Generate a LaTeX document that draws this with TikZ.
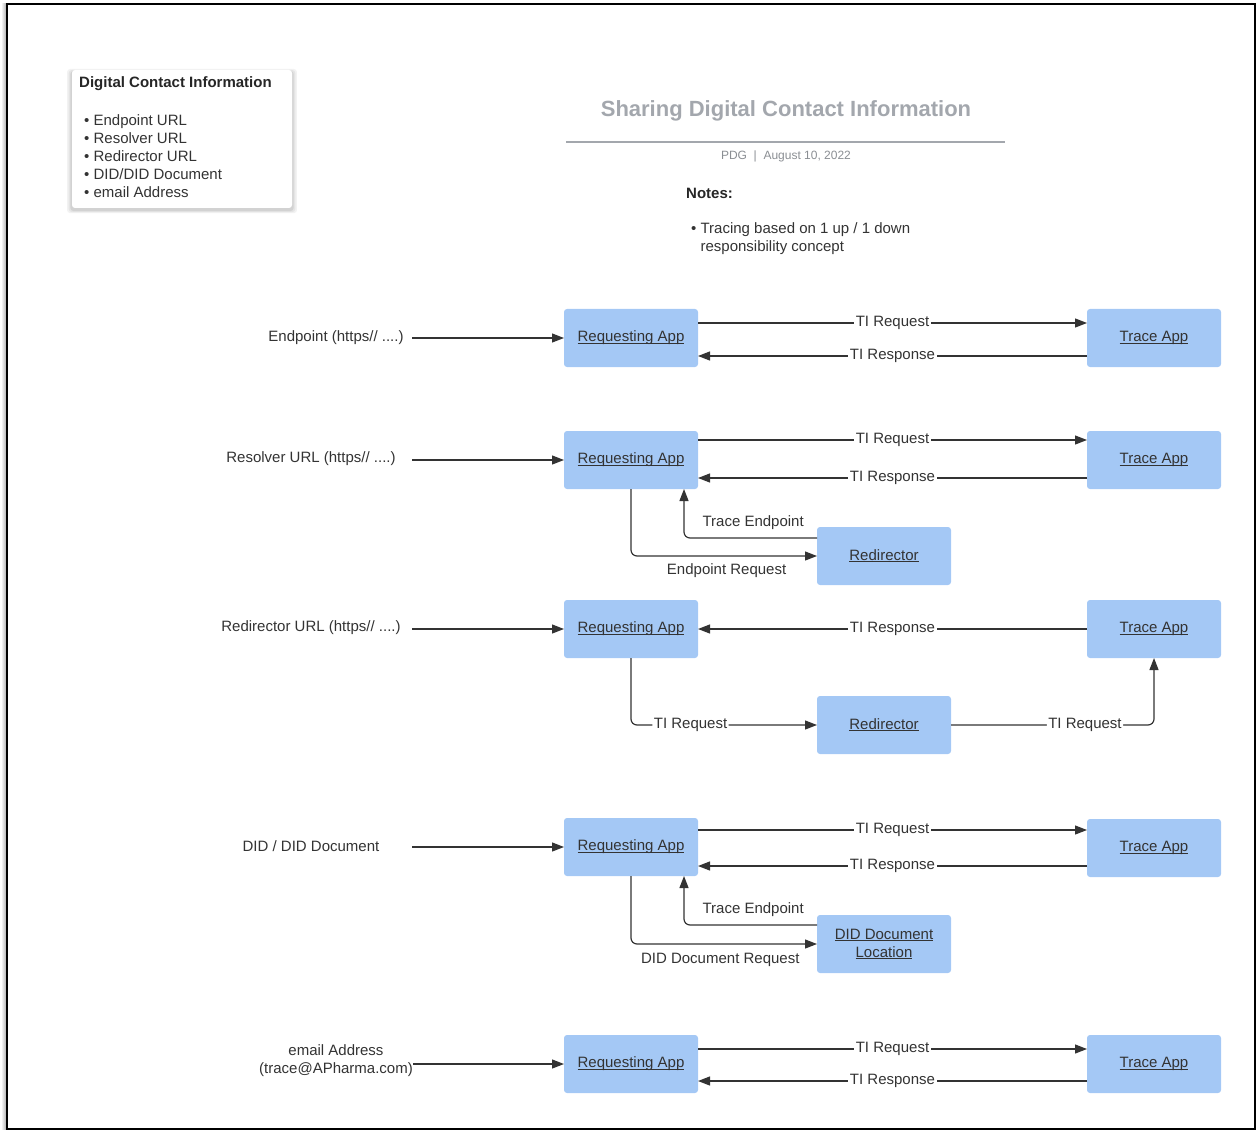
\documentclass[tikz,border=0pt]{standalone}
\usepackage{fontspec}
\setmainfont{Liberation Sans}
\usetikzlibrary{arrows.meta,shadows}
\definecolor{appblue}{HTML}{A4C8F5}
\definecolor{linegray}{HTML}{333333}
\definecolor{titlegray}{HTML}{A3A7AD}
\newcommand{\lnk}[1]{\setbox0\hbox{#1}\rlap{\rule[-1.8pt]{\wd0}{0.9pt}}\box0}

\begin{document}
\begin{tikzpicture}[x=1pt, y=-1pt,
	app/.style={fill=appblue, rounded corners=3pt, minimum width=134pt, minimum height=58pt, align=center, text=linegray, font=\fontsize{15}{18}\selectfont, outer sep=0pt},
	flow/.style={draw=linegray, line width=1.2pt, -{Triangle[length=12pt,width=9pt]}},
	elbow/.style={flow, rounded corners=6pt},
	lbl/.style={fill=white, inner sep=1.5pt, text=linegray, font=\fontsize{15}{18}\selectfont},
	txt/.style={text=linegray, font=\fontsize{15}{18}\selectfont, align=center},
	card/.style={fill=white, rounded corners=3pt, minimum width=220pt, minimum height=138pt,
		general shadow={fill=black, opacity=0.05, rounded corners=6pt, shadow scale=1.045, shadow yshift=-2pt},
		general shadow={fill=black, opacity=0.06, rounded corners=5pt, shadow scale=1.03, shadow yshift=-2pt},
		general shadow={fill=black, opacity=0.08, rounded corners=4pt, shadow scale=1.015, shadow yshift=-2pt}}]

	\useasboundingbox (0,0) rectangle (1257,1131);
	\shade [left color=white, right color=black!35] (1,4) rectangle (7,1129);
	\draw [line width=2.5pt] (7,4) rectangle (1255,1129);

	% contact information card
	\node [card] (card) at (182,139) {};
	\node [anchor=west, inner sep=0pt, text=black!85, font=\bfseries\fontsize{15}{18}\selectfont] (cardtitle) at (79,84) {Digital Contact Information};
	\node [anchor=west, inner sep=0pt, align=left, text=linegray, font=\fontsize{15}{18}\selectfont] (cardlist) at (84,156) {• Endpoint URL\\• Resolver URL\\• Redirector URL\\• DID/DID Document\\• email Address};

	% heading and notes
	\node [text=titlegray, font=\bfseries\fontsize{22}{26}\selectfont] (heading) at (786,111) {Sharing Digital Contact Information};
	\draw [titlegray, line width=1.2pt] (566,142) -- (1005,142);
	\node [text=titlegray!85!black, font=\fontsize{12}{14}\selectfont] (byline) at (786,156) {PDG \ | \ August 10, 2022};
	\node [anchor=west, inner sep=0pt, text=black!85, font=\bfseries\fontsize{15}{18}\selectfont] (notes) at (686,193) {Notes:};
	\node [anchor=west, inner sep=0pt, align=left, text=linegray, font=\fontsize{15}{18}\selectfont] (notelist) at (691,239) {• Tracing based on 1 up / 1 down\\\phantom{• }responsibility concept};

	% endpoint
	\node [txt] (src1) at (336,338) {Endpoint (https// ....)};
	\coordinate (in1) at (412,338);
	\node [app] (req1) at (631,338) {\lnk{Requesting App}};
	\node [app] (trc1) at (1154,338) {\lnk{Trace App}};
	\draw [flow] (in1) -- (req1);
	\draw [flow] ([yshift=15pt]req1.east) -- ([yshift=15pt]trc1.west) node [lbl, midway] {TI Request};
	\draw [flow] ([yshift=-18pt]trc1.west) -- ([yshift=-18pt]req1.east) node [lbl, midway] {TI Response};

	% resolver
	\node [txt] (src2) at (311,459) {Resolver URL (https// ....)};
	\coordinate (in2) at (412,460);
	\node [app] (req2) at (631,460) {\lnk{Requesting App}};
	\node [app] (trc2) at (1154,460) {\lnk{Trace App}};
	\node [app] (rdr2) at (884,556) {\lnk{Redirector}};
	\draw [flow] (in2) -- (req2);
	\draw [flow] ([yshift=20pt]req2.east) -- ([yshift=20pt]trc2.west) node [lbl, midway] {TI Request};
	\draw [flow] ([yshift=-18pt]trc2.west) -- ([yshift=-18pt]req2.east) node [lbl, midway] {TI Response};
	\draw [elbow] ([yshift=18pt]rdr2.west) -| ([xshift=53pt]req2.south) node [txt, pos=0.24, yshift=15pt] {Trace Endpoint};
	\draw [elbow] (req2.south) |- (rdr2.west) node [txt, pos=0.757, yshift=-15pt] {Endpoint Request};

	% redirector
	\node [txt] (src3) at (311,628) {Redirector URL (https// ....)};
	\coordinate (in3) at (412,629);
	\node [app] (req3) at (631,629) {\lnk{Requesting App}};
	\node [app] (trc3) at (1154,629) {\lnk{Trace App}};
	\node [app] (rdr3) at (884,725) {\lnk{Redirector}};
	\draw [flow] (in3) -- (req3);
	\draw [flow] (trc3) -- (req3) node [lbl, midway] {TI Response};
	\draw [elbow] (req3.south) |- (rdr3.west) node [lbl, pos=0.66] {TI Request};
	\draw [elbow] (rdr3.east) -| (trc3.south) node [lbl, pos=0.33] {TI Request};

	% did document
	\node [txt] (src4) at (311,846) {DID / DID Document};
	\coordinate (in4) at (412,847);
	\node [app] (req4) at (631,847) {\lnk{Requesting App}};
	\node [app] (trc4) at (1154,848) {\lnk{Trace App}};
	\node [app] (did4) at (884,944) {\lnk{DID Document}\\\lnk{Location}};
	\draw [flow] (in4) -- (req4);
	\draw [flow] ([yshift=17pt]req4.east) -- ([yshift=17pt]req4.east -| trc4.west) node [lbl, midway] {TI Request};
	\draw [flow] ([yshift=-19pt]req4.east -| trc4.west) -- ([yshift=-19pt]req4.east) node [lbl, midway] {TI Response};
	\draw [elbow] ([yshift=19pt]did4.west) -| ([xshift=53pt]req4.south) node [txt, pos=0.24, yshift=15pt] {Trace Endpoint};
	\draw [elbow] (req4.south) |- (did4.west) node [txt, pos=0.74, yshift=-16pt] {DID Document Request};

	% email
	\node [txt] (src5) at (336,1061) {email Address\\(trace@APharma.com)};
	\coordinate (in5) at (413,1064);
	\node [app] (req5) at (631,1064) {\lnk{Requesting App}};
	\node [app] (trc5) at (1154,1064) {\lnk{Trace App}};
	\draw [flow] (in5) -- (req5);
	\draw [flow] ([yshift=15pt]req5.east) -- ([yshift=15pt]trc5.west) node [lbl, midway] {TI Request};
	\draw [flow] ([yshift=-17pt]trc5.west) -- ([yshift=-17pt]req5.east) node [lbl, midway] {TI Response};

\end{tikzpicture}
\end{document}
